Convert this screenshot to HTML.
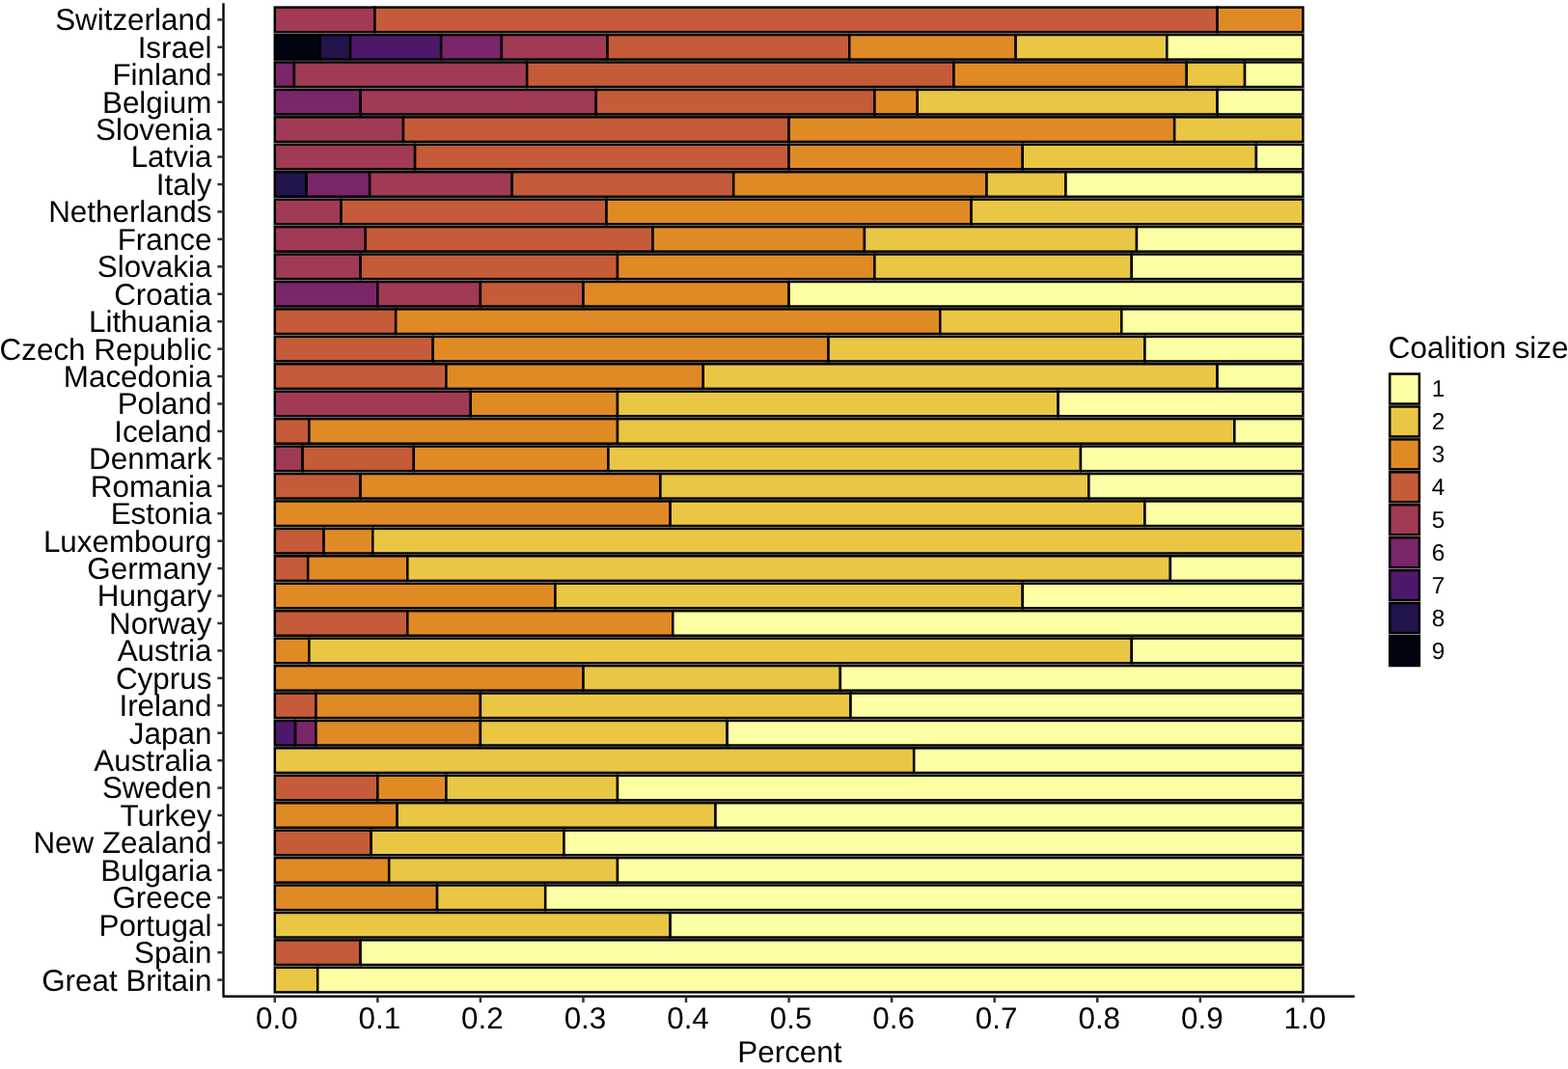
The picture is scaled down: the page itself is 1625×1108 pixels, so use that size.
<!DOCTYPE html>
<html lang="en">
<head>
<meta charset="utf-8">
<title>Coalition size by country</title>
<style>
html,body{margin:0;padding:0;background:#fff;}
body{width:1625px;height:1108px;overflow:hidden;font-family:"Liberation Sans",Arial,Helvetica,sans-serif;}
svg{display:block;text-rendering:geometricPrecision;}
</style>
</head>
<body>
<svg width="1625" height="1108" viewBox="0 0 1625 1108">
<rect width="1625" height="1108" fill="#fff"/>
<g stroke="#000" stroke-width="2.5" stroke-linejoin="miter">
<rect x="284.80" y="7.63" width="103.60" height="25.59" fill="#A13A54"/>
<rect x="388.40" y="7.63" width="873.17" height="25.59" fill="#C55B38"/>
<rect x="1261.56" y="7.63" width="88.80" height="25.59" fill="#E08A26"/>
<rect x="284.80" y="36.06" width="47.01" height="25.59" fill="#020410"/>
<rect x="331.81" y="36.06" width="31.34" height="25.59" fill="#22134B"/>
<rect x="363.15" y="36.06" width="94.02" height="25.59" fill="#4D186A"/>
<rect x="457.17" y="36.06" width="62.68" height="25.59" fill="#7A2668"/>
<rect x="519.85" y="36.06" width="109.69" height="25.59" fill="#A13A54"/>
<rect x="629.54" y="36.06" width="250.72" height="25.59" fill="#C55B38"/>
<rect x="880.26" y="36.06" width="172.37" height="25.59" fill="#E08A26"/>
<rect x="1052.63" y="36.06" width="156.70" height="25.59" fill="#EAC645"/>
<rect x="1209.33" y="36.06" width="141.03" height="25.59" fill="#FCFFA4"/>
<rect x="284.80" y="64.49" width="20.10" height="25.59" fill="#7A2668"/>
<rect x="304.90" y="64.49" width="241.26" height="25.59" fill="#A13A54"/>
<rect x="546.16" y="64.49" width="442.31" height="25.59" fill="#C55B38"/>
<rect x="988.47" y="64.49" width="241.26" height="25.59" fill="#E08A26"/>
<rect x="1229.73" y="64.49" width="60.31" height="25.59" fill="#EAC645"/>
<rect x="1290.05" y="64.49" width="60.31" height="25.59" fill="#FCFFA4"/>
<rect x="284.80" y="92.93" width="88.80" height="25.59" fill="#7A2668"/>
<rect x="373.60" y="92.93" width="244.19" height="25.59" fill="#A13A54"/>
<rect x="617.79" y="92.93" width="288.59" height="25.59" fill="#C55B38"/>
<rect x="906.38" y="92.93" width="44.40" height="25.59" fill="#E08A26"/>
<rect x="950.77" y="92.93" width="310.79" height="25.59" fill="#EAC645"/>
<rect x="1261.56" y="92.93" width="88.80" height="25.59" fill="#FCFFA4"/>
<rect x="284.80" y="121.36" width="133.19" height="25.59" fill="#A13A54"/>
<rect x="418.00" y="121.36" width="399.58" height="25.59" fill="#C55B38"/>
<rect x="817.58" y="121.36" width="399.59" height="25.59" fill="#E08A26"/>
<rect x="1217.16" y="121.36" width="133.19" height="25.59" fill="#EAC645"/>
<rect x="284.80" y="149.80" width="145.30" height="25.59" fill="#A13A54"/>
<rect x="430.10" y="149.80" width="387.48" height="25.59" fill="#C55B38"/>
<rect x="817.58" y="149.80" width="242.17" height="25.59" fill="#E08A26"/>
<rect x="1059.75" y="149.80" width="242.17" height="25.59" fill="#EAC645"/>
<rect x="1301.93" y="149.80" width="48.43" height="25.59" fill="#FCFFA4"/>
<rect x="284.80" y="178.23" width="32.79" height="25.59" fill="#22134B"/>
<rect x="317.59" y="178.23" width="65.57" height="25.59" fill="#7A2668"/>
<rect x="383.16" y="178.23" width="147.54" height="25.59" fill="#A13A54"/>
<rect x="530.70" y="178.23" width="229.51" height="25.59" fill="#C55B38"/>
<rect x="760.20" y="178.23" width="262.29" height="25.59" fill="#E08A26"/>
<rect x="1022.50" y="178.23" width="81.97" height="25.59" fill="#EAC645"/>
<rect x="1104.46" y="178.23" width="245.90" height="25.59" fill="#FCFFA4"/>
<rect x="284.80" y="206.67" width="68.75" height="25.59" fill="#A13A54"/>
<rect x="353.55" y="206.67" width="274.98" height="25.59" fill="#C55B38"/>
<rect x="628.53" y="206.67" width="378.10" height="25.59" fill="#E08A26"/>
<rect x="1006.63" y="206.67" width="343.73" height="25.59" fill="#EAC645"/>
<rect x="284.80" y="235.10" width="94.02" height="25.59" fill="#A13A54"/>
<rect x="378.82" y="235.10" width="297.73" height="25.59" fill="#C55B38"/>
<rect x="676.55" y="235.10" width="219.38" height="25.59" fill="#E08A26"/>
<rect x="895.93" y="235.10" width="282.06" height="25.59" fill="#EAC645"/>
<rect x="1177.99" y="235.10" width="172.37" height="25.59" fill="#FCFFA4"/>
<rect x="284.80" y="263.54" width="88.80" height="25.59" fill="#A13A54"/>
<rect x="373.60" y="263.54" width="266.39" height="25.59" fill="#C55B38"/>
<rect x="639.99" y="263.54" width="266.39" height="25.59" fill="#E08A26"/>
<rect x="906.38" y="263.54" width="266.39" height="25.59" fill="#EAC645"/>
<rect x="1172.77" y="263.54" width="177.59" height="25.59" fill="#FCFFA4"/>
<rect x="284.80" y="291.97" width="106.56" height="25.59" fill="#7A2668"/>
<rect x="391.36" y="291.97" width="106.56" height="25.59" fill="#A13A54"/>
<rect x="497.91" y="291.97" width="106.56" height="25.59" fill="#C55B38"/>
<rect x="604.47" y="291.97" width="213.11" height="25.59" fill="#E08A26"/>
<rect x="817.58" y="291.97" width="532.78" height="25.59" fill="#FCFFA4"/>
<rect x="284.80" y="320.41" width="125.36" height="25.59" fill="#C55B38"/>
<rect x="410.16" y="320.41" width="564.12" height="25.59" fill="#E08A26"/>
<rect x="974.28" y="320.41" width="188.04" height="25.59" fill="#EAC645"/>
<rect x="1162.32" y="320.41" width="188.04" height="25.59" fill="#FCFFA4"/>
<rect x="284.80" y="348.84" width="163.93" height="25.59" fill="#C55B38"/>
<rect x="448.73" y="348.84" width="409.83" height="25.59" fill="#E08A26"/>
<rect x="858.56" y="348.84" width="327.86" height="25.59" fill="#EAC645"/>
<rect x="1186.43" y="348.84" width="163.93" height="25.59" fill="#FCFFA4"/>
<rect x="284.80" y="377.28" width="177.59" height="25.59" fill="#C55B38"/>
<rect x="462.39" y="377.28" width="266.39" height="25.59" fill="#E08A26"/>
<rect x="728.78" y="377.28" width="532.78" height="25.59" fill="#EAC645"/>
<rect x="1261.56" y="377.28" width="88.80" height="25.59" fill="#FCFFA4"/>
<rect x="284.80" y="405.71" width="202.96" height="25.59" fill="#A13A54"/>
<rect x="487.76" y="405.71" width="152.22" height="25.59" fill="#E08A26"/>
<rect x="639.99" y="405.71" width="456.67" height="25.59" fill="#EAC645"/>
<rect x="1096.66" y="405.71" width="253.70" height="25.59" fill="#FCFFA4"/>
<rect x="284.80" y="434.15" width="35.52" height="25.59" fill="#C55B38"/>
<rect x="320.32" y="434.15" width="319.67" height="25.59" fill="#E08A26"/>
<rect x="639.99" y="434.15" width="639.34" height="25.59" fill="#EAC645"/>
<rect x="1279.32" y="434.15" width="71.04" height="25.59" fill="#FCFFA4"/>
<rect x="284.80" y="462.58" width="28.80" height="25.59" fill="#A13A54"/>
<rect x="313.60" y="462.58" width="115.20" height="25.59" fill="#C55B38"/>
<rect x="428.79" y="462.58" width="201.59" height="25.59" fill="#E08A26"/>
<rect x="630.39" y="462.58" width="489.58" height="25.59" fill="#EAC645"/>
<rect x="1119.97" y="462.58" width="230.39" height="25.59" fill="#FCFFA4"/>
<rect x="284.80" y="491.02" width="88.80" height="25.59" fill="#C55B38"/>
<rect x="373.60" y="491.02" width="310.79" height="25.59" fill="#E08A26"/>
<rect x="684.38" y="491.02" width="443.98" height="25.59" fill="#EAC645"/>
<rect x="1128.37" y="491.02" width="221.99" height="25.59" fill="#FCFFA4"/>
<rect x="284.80" y="519.45" width="409.83" height="25.59" fill="#E08A26"/>
<rect x="694.63" y="519.45" width="491.80" height="25.59" fill="#EAC645"/>
<rect x="1186.43" y="519.45" width="163.93" height="25.59" fill="#FCFFA4"/>
<rect x="284.80" y="547.89" width="50.74" height="25.59" fill="#C55B38"/>
<rect x="335.54" y="547.89" width="50.74" height="25.59" fill="#E08A26"/>
<rect x="386.28" y="547.89" width="964.08" height="25.59" fill="#EAC645"/>
<rect x="284.80" y="576.32" width="34.37" height="25.59" fill="#C55B38"/>
<rect x="319.17" y="576.32" width="103.12" height="25.59" fill="#E08A26"/>
<rect x="422.29" y="576.32" width="790.58" height="25.59" fill="#EAC645"/>
<rect x="1212.87" y="576.32" width="137.49" height="25.59" fill="#FCFFA4"/>
<rect x="284.80" y="604.76" width="290.61" height="25.59" fill="#E08A26"/>
<rect x="575.41" y="604.76" width="484.35" height="25.59" fill="#EAC645"/>
<rect x="1059.75" y="604.76" width="290.61" height="25.59" fill="#FCFFA4"/>
<rect x="284.80" y="633.19" width="137.49" height="25.59" fill="#C55B38"/>
<rect x="422.29" y="633.19" width="274.98" height="25.59" fill="#E08A26"/>
<rect x="697.27" y="633.19" width="653.09" height="25.59" fill="#FCFFA4"/>
<rect x="284.80" y="661.63" width="35.52" height="25.59" fill="#E08A26"/>
<rect x="320.32" y="661.63" width="852.45" height="25.59" fill="#EAC645"/>
<rect x="1172.77" y="661.63" width="177.59" height="25.59" fill="#FCFFA4"/>
<rect x="284.80" y="690.06" width="319.67" height="25.59" fill="#E08A26"/>
<rect x="604.47" y="690.06" width="266.39" height="25.59" fill="#EAC645"/>
<rect x="870.86" y="690.06" width="479.50" height="25.59" fill="#FCFFA4"/>
<rect x="284.80" y="718.50" width="42.62" height="25.59" fill="#C55B38"/>
<rect x="327.42" y="718.50" width="170.49" height="25.59" fill="#E08A26"/>
<rect x="497.91" y="718.50" width="383.60" height="25.59" fill="#EAC645"/>
<rect x="881.51" y="718.50" width="468.85" height="25.59" fill="#FCFFA4"/>
<rect x="284.80" y="746.93" width="21.31" height="25.59" fill="#4D186A"/>
<rect x="306.11" y="746.93" width="21.31" height="25.59" fill="#7A2668"/>
<rect x="327.42" y="746.93" width="170.49" height="25.59" fill="#E08A26"/>
<rect x="497.91" y="746.93" width="255.73" height="25.59" fill="#EAC645"/>
<rect x="753.65" y="746.93" width="596.71" height="25.59" fill="#FCFFA4"/>
<rect x="284.80" y="775.37" width="662.38" height="25.59" fill="#EAC645"/>
<rect x="947.18" y="775.37" width="403.18" height="25.59" fill="#FCFFA4"/>
<rect x="284.80" y="803.80" width="106.56" height="25.59" fill="#C55B38"/>
<rect x="391.36" y="803.80" width="71.04" height="25.59" fill="#E08A26"/>
<rect x="462.39" y="803.80" width="177.59" height="25.59" fill="#EAC645"/>
<rect x="639.99" y="803.80" width="710.37" height="25.59" fill="#FCFFA4"/>
<rect x="284.80" y="832.23" width="126.85" height="25.59" fill="#E08A26"/>
<rect x="411.65" y="832.23" width="329.82" height="25.59" fill="#EAC645"/>
<rect x="741.47" y="832.23" width="608.89" height="25.59" fill="#FCFFA4"/>
<rect x="284.80" y="860.67" width="99.90" height="25.59" fill="#C55B38"/>
<rect x="384.70" y="860.67" width="199.79" height="25.59" fill="#EAC645"/>
<rect x="584.49" y="860.67" width="765.87" height="25.59" fill="#FCFFA4"/>
<rect x="284.80" y="889.10" width="118.40" height="25.59" fill="#E08A26"/>
<rect x="403.20" y="889.10" width="236.79" height="25.59" fill="#EAC645"/>
<rect x="639.99" y="889.10" width="710.37" height="25.59" fill="#FCFFA4"/>
<rect x="284.80" y="917.54" width="168.25" height="25.59" fill="#E08A26"/>
<rect x="453.05" y="917.54" width="112.16" height="25.59" fill="#EAC645"/>
<rect x="565.21" y="917.54" width="785.15" height="25.59" fill="#FCFFA4"/>
<rect x="284.80" y="945.97" width="409.83" height="25.59" fill="#EAC645"/>
<rect x="694.63" y="945.97" width="655.73" height="25.59" fill="#FCFFA4"/>
<rect x="284.80" y="974.41" width="88.80" height="25.59" fill="#C55B38"/>
<rect x="373.60" y="974.41" width="976.76" height="25.59" fill="#FCFFA4"/>
<rect x="284.80" y="1002.84" width="44.40" height="25.59" fill="#EAC645"/>
<rect x="329.20" y="1002.84" width="1021.16" height="25.59" fill="#FCFFA4"/>
</g>
<path d="M231.55 3.1599999999999997V1032.7H1403.8" fill="none" stroke="#000" stroke-width="2.35" stroke-linejoin="round"/>
<g stroke="#333" stroke-width="2.5">
<path d="M225.35 20.42H231.55"/>
<path d="M225.35 48.86H231.55"/>
<path d="M225.35 77.29H231.55"/>
<path d="M225.35 105.73H231.55"/>
<path d="M225.35 134.16H231.55"/>
<path d="M225.35 162.59H231.55"/>
<path d="M225.35 191.03H231.55"/>
<path d="M225.35 219.46H231.55"/>
<path d="M225.35 247.90H231.55"/>
<path d="M225.35 276.33H231.55"/>
<path d="M225.35 304.77H231.55"/>
<path d="M225.35 333.20H231.55"/>
<path d="M225.35 361.64H231.55"/>
<path d="M225.35 390.07H231.55"/>
<path d="M225.35 418.51H231.55"/>
<path d="M225.35 446.94H231.55"/>
<path d="M225.35 475.38H231.55"/>
<path d="M225.35 503.81H231.55"/>
<path d="M225.35 532.25H231.55"/>
<path d="M225.35 560.68H231.55"/>
<path d="M225.35 589.12H231.55"/>
<path d="M225.35 617.55H231.55"/>
<path d="M225.35 645.99H231.55"/>
<path d="M225.35 674.42H231.55"/>
<path d="M225.35 702.86H231.55"/>
<path d="M225.35 731.29H231.55"/>
<path d="M225.35 759.73H231.55"/>
<path d="M225.35 788.16H231.55"/>
<path d="M225.35 816.60H231.55"/>
<path d="M225.35 845.03H231.55"/>
<path d="M225.35 873.47H231.55"/>
<path d="M225.35 901.90H231.55"/>
<path d="M225.35 930.33H231.55"/>
<path d="M225.35 958.77H231.55"/>
<path d="M225.35 987.20H231.55"/>
<path d="M225.35 1015.64H231.55"/>
<path d="M284.80 1032.7V1039.10"/>
<path d="M391.36 1032.7V1039.10"/>
<path d="M497.91 1032.7V1039.10"/>
<path d="M604.47 1032.7V1039.10"/>
<path d="M711.02 1032.7V1039.10"/>
<path d="M817.58 1032.7V1039.10"/>
<path d="M924.14 1032.7V1039.10"/>
<path d="M1030.69 1032.7V1039.10"/>
<path d="M1137.25 1032.7V1039.10"/>
<path d="M1243.80 1032.7V1039.10"/>
<path d="M1350.36 1032.7V1039.10"/>
</g>
<g font-family="'Liberation Sans', Arial, Helvetica, sans-serif" font-size="31.4" fill="#000" text-anchor="end">
<text x="219.4" y="31">Switzerland</text>
<text x="219.4" y="60">Israel</text>
<text x="219.4" y="88">Finland</text>
<text x="219.4" y="117">Belgium</text>
<text x="219.4" y="145">Slovenia</text>
<text x="219.4" y="173">Latvia</text>
<text x="219.4" y="202">Italy</text>
<text x="219.4" y="230">Netherlands</text>
<text x="219.4" y="259">France</text>
<text x="219.4" y="287">Slovakia</text>
<text x="219.4" y="316">Croatia</text>
<text x="219.4" y="344">Lithuania</text>
<text x="219.4" y="373">Czech Republic</text>
<text x="219.4" y="401">Macedonia</text>
<text x="219.4" y="429">Poland</text>
<text x="219.4" y="458">Iceland</text>
<text x="219.4" y="486">Denmark</text>
<text x="219.4" y="515">Romania</text>
<text x="219.4" y="543">Estonia</text>
<text x="219.4" y="572">Luxembourg</text>
<text x="219.4" y="600">Germany</text>
<text x="219.4" y="628">Hungary</text>
<text x="219.4" y="657">Norway</text>
<text x="219.4" y="685">Austria</text>
<text x="219.4" y="714">Cyprus</text>
<text x="219.4" y="742">Ireland</text>
<text x="219.4" y="771">Japan</text>
<text x="219.4" y="799">Australia</text>
<text x="219.4" y="827">Sweden</text>
<text x="219.4" y="856">Turkey</text>
<text x="219.4" y="884">New Zealand</text>
<text x="219.4" y="913">Bulgaria</text>
<text x="219.4" y="941">Greece</text>
<text x="219.4" y="970">Portugal</text>
<text x="219.4" y="998">Spain</text>
<text x="219.4" y="1027">Great Britain</text>
</g>
<g font-family="'Liberation Sans', Arial, Helvetica, sans-serif" font-size="31.4" fill="#000" text-anchor="middle">
<text x="286.80" y="1066">0.0</text>
<text x="393.36" y="1066">0.1</text>
<text x="499.91" y="1066">0.2</text>
<text x="606.47" y="1066">0.3</text>
<text x="713.02" y="1066">0.4</text>
<text x="819.58" y="1066">0.5</text>
<text x="926.14" y="1066">0.6</text>
<text x="1032.69" y="1066">0.7</text>
<text x="1139.25" y="1066">0.8</text>
<text x="1245.80" y="1066">0.9</text>
<text x="1352.36" y="1066">1.0</text>
<text x="818.4" y="1101">Percent</text>
</g>
<text x="1438.8" y="371" font-family="'Liberation Sans', Arial, Helvetica, sans-serif" font-size="31.4" fill="#000">Coalition size</text>
<g stroke="#000" stroke-width="2.5">
<rect x="1440.3" y="387.55" width="30.65" height="31.0" fill="#FCFFA4"/>
<rect x="1440.3" y="421.48" width="30.65" height="31.0" fill="#EAC645"/>
<rect x="1440.3" y="455.41" width="30.65" height="31.0" fill="#E08A26"/>
<rect x="1440.3" y="489.34" width="30.65" height="31.0" fill="#C55B38"/>
<rect x="1440.3" y="523.27" width="30.65" height="31.0" fill="#A13A54"/>
<rect x="1440.3" y="557.20" width="30.65" height="31.0" fill="#7A2668"/>
<rect x="1440.3" y="591.13" width="30.65" height="31.0" fill="#4D186A"/>
<rect x="1440.3" y="625.06" width="30.65" height="31.0" fill="#22134B"/>
<rect x="1440.3" y="658.99" width="30.65" height="31.0" fill="#020410"/>
</g>
<g font-family="'Liberation Sans', Arial, Helvetica, sans-serif" font-size="24.5" fill="#000">
<text x="1483.8" y="411">1</text>
<text x="1483.8" y="445">2</text>
<text x="1483.8" y="479">3</text>
<text x="1483.8" y="513">4</text>
<text x="1483.8" y="547">5</text>
<text x="1483.8" y="581">6</text>
<text x="1483.8" y="615">7</text>
<text x="1483.8" y="649">8</text>
<text x="1483.8" y="683">9</text>
</g>
</svg>
</body>
</html>
